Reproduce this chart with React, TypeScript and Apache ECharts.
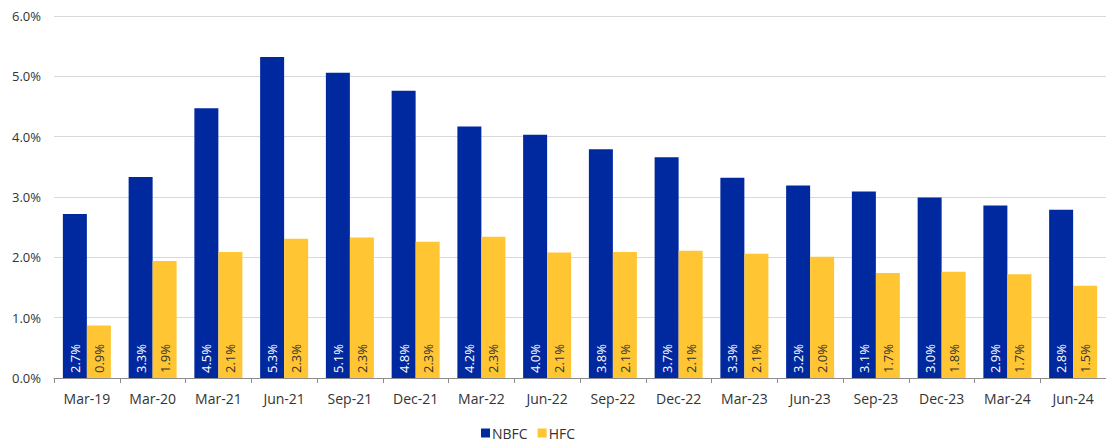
import React, { useEffect, useRef } from "react";
import * as echarts from "echarts";

const categories = ["Mar-19", "Mar-20", "Mar-21", "Jun-21", "Sep-21", "Dec-21", "Mar-22", "Jun-22", "Sep-22", "Dec-22", "Mar-23", "Jun-23", "Sep-23", "Dec-23", "Mar-24", "Jun-24"];
const nbfc = [2.72, 3.33, 4.47, 5.32, 5.06, 4.76, 4.17, 4.03, 3.79, 3.66, 3.32, 3.19, 3.09, 2.99, 2.86, 2.79];
const hfc = [0.87, 1.94, 2.09, 2.31, 2.33, 2.26, 2.34, 2.08, 2.09, 2.11, 2.06, 2.01, 1.74, 1.76, 1.72, 1.53];
const yTicks = [0, 1, 2, 3, 4, 5, 6];

const FONT = "'Open Sans', 'Noto Sans', sans-serif";

export default function App() {
  const ref = useRef<HTMLDivElement>(null);
  useEffect(() => {
    if (!ref.current) return;
    const chart = echarts.init(ref.current, undefined, { renderer: "svg" });
    const label = (color: string) => ({
      show: true,
      position: "insideBottom",
      rotate: 90,
      align: "left",
      verticalAlign: "middle",
      distance: 5,
      color,
      fontSize: 13,
      fontFamily: FONT,
      formatter: (p: any) => p.value.toFixed(1) + "%",
    });
    chart.setOption({
      animation: false,
      textStyle: { fontFamily: FONT },
      grid: { left: 54, right: -2, top: 16, bottom: 65 },
      legend: {
        top: 421,
        left: 476,
        itemWidth: 9,
        itemHeight: 9,
        itemGap: 10,
        icon: "rect",
        textStyle: { fontSize: 14, color: "#333", fontFamily: FONT, padding: [0, 0, 0, -3] },
        data: ["NBFC", "HFC"],
      },
      xAxis: {
        type: "category",
        data: categories,
        axisLine: { lineStyle: { color: "#8c8c8c" } },
        axisTick: { show: true, length: 5, lineStyle: { color: "#8c8c8c" } },
        axisLabel: { color: "#333", fontSize: 14, margin: 13, fontFamily: FONT },
      },
      yAxis: {
        type: "value",
        min: yTicks[0],
        max: yTicks[yTicks.length - 1],
        interval: 1,
        axisLine: { show: false },
        axisTick: { show: false },
        splitLine: { lineStyle: { color: "#d9d9d9" } },
        axisLabel: { color: "#333", fontSize: 13, margin: 13, fontFamily: FONT, formatter: (v: number) => v.toFixed(1) + "%" },
      },
      series: [
        {
          name: "NBFC",
          type: "bar",
          data: nbfc,
          barWidth: 24,
          barGap: "0%",
          itemStyle: { color: "#0029A0" },
          label: label("#ffffff"),
        },
        {
          name: "HFC",
          type: "bar",
          data: hfc,
          barWidth: 24,
          itemStyle: { color: "#FFC533" },
          label: label("#333333"),
        },
      ],
    });
    return () => chart.dispose();
  }, []);
  return <div ref={ref} style={{ position: "absolute", left: 0, top: 0, width: 1106, height: 443 }} />;
}
